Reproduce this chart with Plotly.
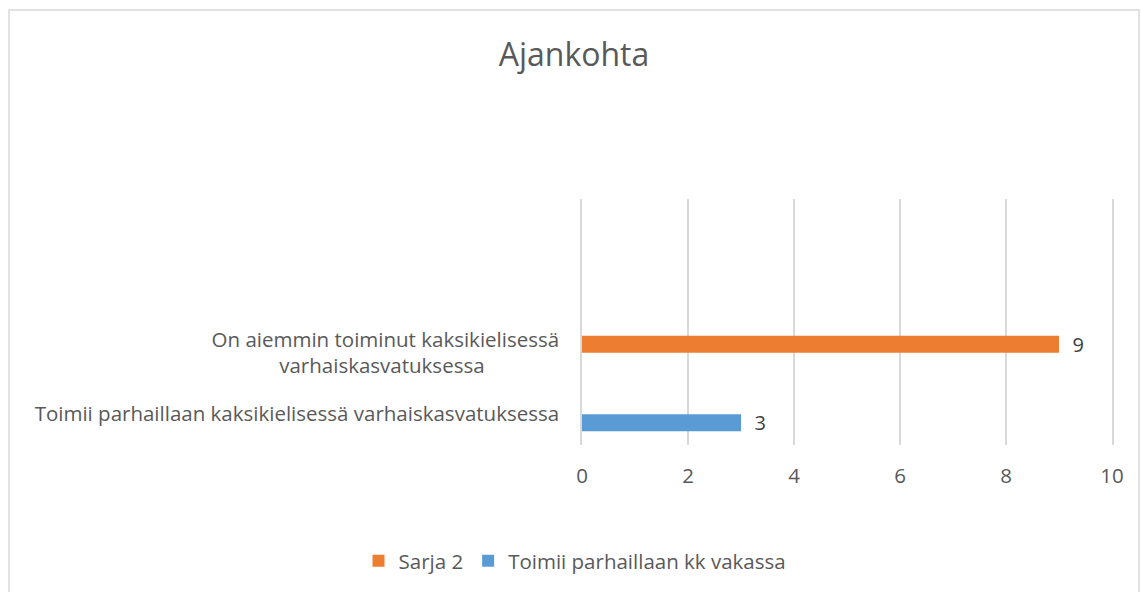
import plotly.graph_objects as go

# ---- data ----
categories = [
    " ",
    "  ",
    "On aiemmin toiminut kaksikielisessä<br>varhaiskasvatuksessa" + "\u00a0" * 14,
    "Toimii parhaillaan kaksikielisessä varhaiskasvatuksessa",
]
series_names = ["Sarja 2", "Toimii parhaillaan kk vakassa"]
sarja2_values = [None, None, 9, None]
toimii_values = [None, None, None, 3]
x_ticks = [0, 2, 4, 6, 8, 10]
title_text = "Ajankohta"

W, H = 1141, 592
L, R, T, B = 582, 1112, 199, 445
FONT = "Open Sans"
GREY = "#595959"
GRID = "#D9D9D9"
FS = 20.5

fig = go.Figure()
for name, vals, color in [(series_names[0], sarja2_values, "#ED7D31"),
                          (series_names[1], toimii_values, "#5B9BD5")]:
    fig.add_trace(go.Bar(
        name=name, y=categories, x=vals, orientation="h",
        marker=dict(color=color, line=dict(width=0)),
        texttemplate="\u00a0\u00a0%{x}", textposition="outside",
        constraintext="none",
        textfont=dict(family=FONT, size=20, color="#404040"),
        cliponaxis=False,
    ))

pw, ph = R - L, B - T

def px(x):
    return (x - L) / pw

def py(y):
    return (B - y) / ph

fig.update_layout(
    width=W, height=H,
    margin=dict(l=L, r=W - R, t=T, b=H - B, autoexpand=False),
    paper_bgcolor="white", plot_bgcolor="white",
    barmode="group", bargap=0.447, bargroupgap=0,
    font=dict(family=FONT, color=GREY, size=FS),
    title=dict(text=title_text, x=574 / W, xref="container", xanchor="center",
               y=1 - 55 / H, yref="container", yanchor="middle",
               font=dict(family=FONT, size=32, color=GREY)),
    xaxis=dict(range=[0, 10], tickvals=x_ticks, showgrid=True, gridcolor=GRID,
               gridwidth=1.5, zeroline=False, showline=False, ticks="",
               tickfont=dict(family=FONT, size=FS, color=GREY), ticklabelstandoff=16),
    yaxis=dict(categoryorder="array", categoryarray=categories, range=[3.5, -0.5],
               showgrid=False, zeroline=False, showline=True, mirror=True,
               linecolor=GRID, linewidth=1.5, ticks="",
               automargin=False,
               tickfont=dict(family=FONT, size=FS, color=GREY), ticklabelstandoff=17),
    legend=dict(orientation="h", x=px(575), xanchor="center", y=py(561), yanchor="middle",
                font=dict(family=FONT, size=FS, color=GREY), traceorder="normal",
                itemclick=False),
    showlegend=True,
    shapes=[dict(type="rect", xref="paper", yref="paper",
                 x0=px(9), x1=px(1139), y0=py(620), y1=py(10),
                 line=dict(color=GRID, width=1.5), fillcolor="rgba(0,0,0,0)",
                 layer="below")],
)

fig.write_html("out.html", config={"displayModeBar": False},
               post_script="document.body.style.margin='0';document.body.style.padding='0';")
